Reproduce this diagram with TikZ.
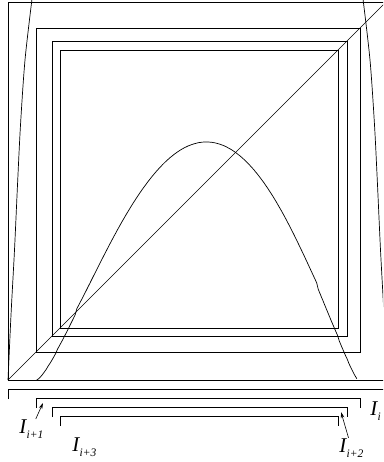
\documentclass[tikz,border=0pt]{standalone}
\usepackage{fontspec}
\setmainfont{Liberation Serif}
\usetikzlibrary{arrows.meta}
\newcommand{\ilab}[1]{\fontsize{21}{21}\selectfont\textit{I}\kern-0.5pt\raisebox{-5pt}{\fontsize{11.5}{11.5}\selectfont\textit{#1}}}

\begin{document}
\begin{tikzpicture}[x=1pt, y=-1pt, line width=0.7pt,
    lab/.style={inner sep=0pt, anchor=base west},
    arr/.style={-{Stealth[length=6pt,width=3.5pt]}, line width=0.6pt}]
    \useasboundingbox (0,0) rectangle (383,462);
    \clip (0,0) rectangle (383,462);
    % unit square and diagonal
    \draw (387,2) -- (8,2) -- (8,380) -- (387,380) -- cycle;
    \draw (8,380) -- (388,0);
    % nested squares I x I
    \foreach \a/\b in {36/360, 52/347, 60/338}
        \draw (\a,388-\a) rectangle (\b,388-\b);
    % steep outer branches
    \draw plot[smooth] coordinates {(8,380) (11,315) (14.5,250) (17.5,185) (20.5,125) (25,60) (32,-1)};
    \draw plot[smooth] coordinates {(387,380) (384,315) (380.5,250) (377.5,185) (374.5,125) (370,60) (363,-1)};
    % the hump
    \draw plot[domain=0.0005:0.9995, samples=200]
        ({36.5+321.5*\x}, {380-1487.5*pow(\x,1.4)*pow(1-\x,1.25)});
    % intervals
    \foreach \a/\b/\y in {8/387/389, 36/360/398, 52/347/407, 60/338/416}
        \draw (\a,\y+10) -- (\a,\y) -- (\b,\y) -- (\b,\y+10);
    % labels
    \node[lab] (li)  at (370,415) {\ilab{i}};
    \node[lab] (li1) at (19,433)  {\ilab{i+1}};
    \node[lab] (li2) at (339,452) {\ilab{i+2}};
    \node[lab] (li3) at (72,451)  {\ilab{i+3}};
    \coordinate (e1) at (43,403);
    \coordinate (e2) at (341,412);
    \draw[arr] (li1) -- (e1);
    \draw[arr] (li2) -- (e2);
\end{tikzpicture}
\end{document}
